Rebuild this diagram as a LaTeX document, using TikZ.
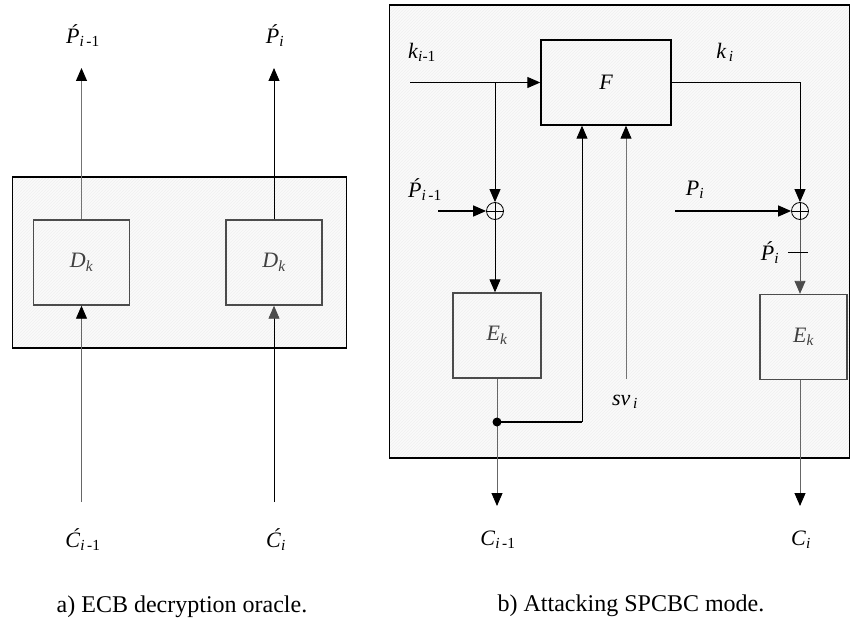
\documentclass[tikz,border=0pt]{standalone}
\usepackage{fontspec}
\setmainfont{Liberation Serif}
\usetikzlibrary{arrows.meta,patterns}

\tikzset{
	panel/.style={fill=black!2,postaction={pattern=north east lines,pattern color=black!6},postaction={draw,line width=1.8pt}},
	cipher/.style={draw=black!70,line width=1.4pt,minimum width=96pt,minimum height=85pt,text=black!75,font=\fontsize{22}{25}\selectfont\itshape},
	flow/.style={line width=0.9pt,-{Triangle[length=13pt,width=11pt,color=black]}},
	wire/.style={line width=0.9pt},
	xorsign/.style={circle,draw,line width=0.8pt,minimum size=17pt,inner sep=0pt,path picture={\draw[line width=0.8pt] (path picture bounding box.north)--(path picture bounding box.south) (path picture bounding box.west)--(path picture bounding box.east);}},
	lbl/.style={font=\fontsize{22}{25}\selectfont},
	caption/.style={font=\fontsize{24}{28}\selectfont}
}

\begin{document}
\begin{tikzpicture}[x=1pt,y=-1pt]
\useasboundingbox (0,0) rectangle (851,623);
\node[panel,minimum width=334pt,minimum height=171pt] (ecb) at (179.5,262.5) {};
\node[cipher] (d1) at (81.5,262.5) {D\textsubscript{k}};
\node[cipher] (d2) at (274,262.5) {D\textsubscript{k}};
\node[lbl] (pp1) at (83,36) {\textit{Ṕ}\textsubscript{\textit{i}\,-1}};
\node[lbl] (pp2) at (275,36) {\textit{Ṕ}\textsubscript{\textit{i}}};
\node[lbl] (cc1) at (83,540) {\textit{Ć}\textsubscript{\textit{i}\,-1}};
\node[lbl] (cc2) at (276,540) {\textit{Ć}\textsubscript{\textit{i}}};
\coordinate (top1) at (81.5,68);
\coordinate (top2) at (274,68);
\coordinate (bot1) at (81.5,502);
\coordinate (bot2) at (274,502);
\draw[flow,black!55] (d1.north) -- (top1);
\draw[flow] (d2.north) -- (top2);
\draw[flow,black!60] (bot1) -- (d1.south);
\draw[flow,-{Triangle[length=13pt,width=11pt,color=black!70]}] (bot2) -- (d2.south);
\node[caption] (capa) at (182,607) {a) ECB decryption oracle.};

\node[panel,minimum width=460pt,minimum height=453pt] (spcbc) at (619.5,231.5) {};
\node[cipher,draw=black,text=black,minimum width=130pt] (f) at (606,82.5) {F};
\node[xorsign] (x1) at (495,211) {};
\node[xorsign] (x2) at (800,211) {};
\node[cipher,minimum width=88pt] (e1) at (497,335.5) {E\textsubscript{k}};
\node[cipher,minimum width=87pt] (e2) at (803.5,337) {E\textsubscript{k}};
\node[lbl] (kprev) at (422,52) {\textit{k}\textsubscript{\textit{i}-1}};
\node[lbl] (knext) at (725,52) {\textit{k}\textsubscript{\,\textit{i}}};
\node[lbl] (pprev) at (425,190) {\textit{Ṕ}\textsubscript{\textit{i}\,-1}};
\node[lbl] (pnew) at (695,190) {\textit{P}\textsubscript{\textit{i}}};
\node[lbl] (pmod) at (770,253) {\textit{Ṕ}\textsubscript{\textit{i}}};
\node[lbl] (svi) at (625,402) {\textit{sv}\textsubscript{\,\textit{i}}};
\node[lbl] (co1) at (498,540) {\textit{C}\textsubscript{\textit{i}\,-1}};
\node[lbl] (co2) at (801,540) {\textit{C}\textsubscript{\textit{i}}};
\coordinate (kin) at (410,82.5);
\coordinate (pin1) at (438,211);
\coordinate (pin2) at (675,211);
\coordinate (joint) at (497,422);
\coordinate (svin) at (626,379);
\coordinate (out1) at (497,506);
\coordinate (out2) at (800,506);
\draw[flow,line width=1.1pt] (kin) -- (f.west);
\draw[flow] (x1.north |- kin) -- (x1.north);
\draw[flow,line width=1.3pt] (pin1) -- (x1.west);
\draw[flow] (x1.south) -- (x1.south |- e1.north);
\draw[flow,black!60] (e1.south) -- (out1);
\draw[wire,line width=1.4pt] (joint) -- ([xshift=-24pt]f.south |- joint);
\draw[flow] ([xshift=-24pt]f.south |- joint) -- ([xshift=-24pt]f.south);
\fill (joint) circle (4.5pt);
\draw[flow,black!55] (svin) -- ([xshift=20pt]f.south);
\draw[flow] (f.east) -| (x2.north);
\draw[flow,line width=1.3pt] (pin2) -- (x2.west);
\draw[flow,black!65,-{Triangle[length=13pt,width=11pt,color=black!70]}] (x2.south) -- (x2.south |- e2.north);
\draw[wire] (788,252) -- (808,252);
\draw[flow,black!60] (e2.south -| x2) -- (out2);
\node[caption] (capb) at (631,606) {b) Attacking SPCBC mode.};
\end{tikzpicture}
\end{document}
